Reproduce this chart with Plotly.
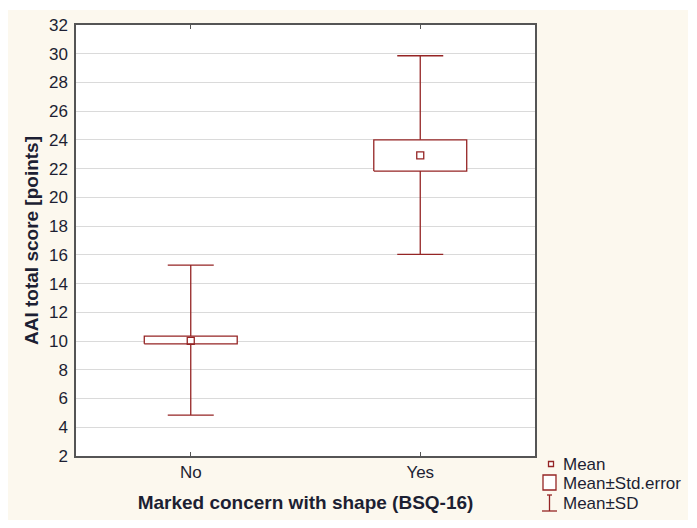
import plotly.graph_objects as go

groups = ["No", "Yes"]
mean = [10.02, 22.93]
se_low = [9.81, 21.83]
se_high = [10.35, 24.01]
sd_low = [4.85, 16.04]
sd_high = [15.29, 29.86]

red = "#952525"
txt = "#1c1f33"
font = "Liberation Sans, Arial, sans-serif"

# plot area in pixels
L, R, T, B = 76, 535, 25, 456
W, H = 697, 528
half_box = 0.2025


def px(x):
    return (x - L) / (R - L)


def py(y):
    return (B - y) / (B - T)


pos = list(range(len(groups)))
fig = go.Figure()

# Mean +/- SD whiskers
fig.add_trace(go.Scatter(
    x=pos, y=mean, mode="markers", marker=dict(size=1, opacity=0),
    error_y=dict(type="data", symmetric=False,
                 array=[h - m for h, m in zip(sd_high, mean)],
                 arrayminus=[m - l for m, l in zip(mean, sd_low)],
                 width=23, thickness=1.3, color=red),
    hoverinfo="skip",
))

# Mean +/- SE boxes
for i in pos:
    fig.add_trace(go.Scatter(
        x=[i - half_box, i + half_box, i + half_box, i - half_box, i - half_box],
        y=[se_low[i], se_low[i], se_high[i], se_high[i], se_low[i]],
        mode="lines", fill="toself", fillcolor="white",
        line=dict(color=red, width=1.3), hoverinfo="skip",
    ))

# Means
fig.add_trace(go.Scatter(
    x=pos, y=mean, mode="markers",
    marker=dict(symbol="square-open", size=7, color=red, line=dict(width=1.3)),
))

shapes = [
    # cream panel and white plot area
    dict(type="rect", xref="paper", yref="paper", x0=px(8), x1=px(688), y0=py(520), y1=py(10),
         fillcolor="#fcf8ee", line_width=0, layer="below"),
    dict(type="rect", xref="paper", yref="paper", x0=0, x1=1, y0=0, y1=1,
         fillcolor="white", line_width=0, layer="below"),
    # legend symbols
    dict(type="rect", xref="paper", yref="paper", x0=px(548.5), x1=px(553.5), y0=py(466.5), y1=py(461.5),
         line=dict(color=red, width=1.3), fillcolor="white"),
    dict(type="rect", xref="paper", yref="paper", x0=px(543), x1=px(556), y0=py(490), y1=py(475),
         line=dict(color=red, width=1.3), fillcolor="white"),
    dict(type="line", xref="paper", yref="paper", x0=px(549.5), x1=px(549.5), y0=py(511), y1=py(495),
         line=dict(color=red, width=1.3)),
    dict(type="line", xref="paper", yref="paper", x0=px(547), x1=px(552), y0=py(495), y1=py(495),
         line=dict(color=red, width=1.3)),
    dict(type="line", xref="paper", yref="paper", x0=px(542), x1=px(557), y0=py(511), y1=py(511),
         line=dict(color=red, width=1.3)),
]

legend_items = [("Mean", 464), ("Mean±Std.error", 483), ("Mean±SD", 503)]
annotations = [
    dict(text=t, xref="paper", yref="paper", x=px(561), y=py(yy), xanchor="left", yanchor="middle",
         showarrow=False, font=dict(size=17, color=txt, family=font))
    for t, yy in legend_items
]

fig.update_layout(
    width=W, height=H,
    margin=dict(l=L, r=W - R, t=T, b=H - B, pad=0),
    paper_bgcolor="white", plot_bgcolor="rgba(0,0,0,0)",
    font=dict(family=font, size=17, color=txt),
    shapes=shapes, annotations=annotations,
    showlegend=False,
)
fig.update_xaxes(
    range=[-0.5, 1.5], tickvals=pos, ticktext=groups,
    showline=True, linecolor="#555555", linewidth=1.5, mirror="ticks",
    ticks="inside", ticklen=4, tickcolor="#555555", showgrid=False, zeroline=False,
    title=dict(text="<b>Marked concern with shape (BSQ-16)</b>", font=dict(size=19), standoff=15),
)
fig.update_yaxes(
    range=[2, 32], dtick=2, showline=True, linecolor="#555555", linewidth=1.5, mirror=True,
    showgrid=True, gridcolor="#dadada", gridwidth=1, zeroline=False, ticks="",
    ticklabelstandoff=3,
    title=dict(text="<b>AAI total score [points]</b>", font=dict(size=19), standoff=5),
)

fig.write_html("out.html", config={"displayModeBar": False},
               post_script="document.body.style.margin='0';")
